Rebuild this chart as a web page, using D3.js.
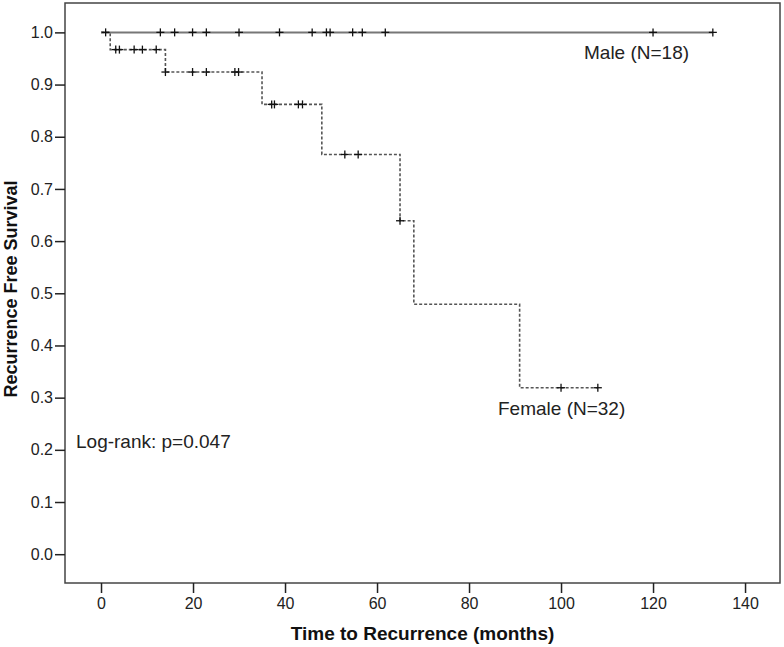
<!DOCTYPE html>
<html>
<head>
<meta charset="utf-8">
<script src="https://cdn.jsdelivr.net/npm/d3@7"></script>
<style>
  html, body { margin: 0; padding: 0; background: #fff; }
  svg { display: block; font-family: "Liberation Sans", Arial, sans-serif; }
</style>
</head>
<body>
<svg id="chart" width="784" height="647"></svg>
<script>
// ---- data ----
const xTicks = [0, 20, 40, 60, 80, 100, 120, 140];
const yTicks = [0.0, 0.1, 0.2, 0.3, 0.4, 0.5, 0.6, 0.7, 0.8, 0.9, 1.0];

const maleStepTimes = [0, 133];
const maleStepSurv  = [1.0, 1.0];
const maleCensorTimes = [1, 12.9, 16, 19.9, 22.9, 30, 38.8, 45.9, 49, 49.8, 54.7, 56.8, 61.8, 120, 133];

const femaleStepTimes = [0, 2, 14, 35, 48, 65, 68, 91, 108];
const femaleStepSurv  = [1.0, 0.967, 0.924, 0.862, 0.766, 0.639, 0.479, 0.319, 0.319];
const femaleCensorTimes = [3.2, 4.0, 7.2, 9.0, 12.0, 14.0, 19.9, 22.9, 29.1, 29.9, 37.1, 37.7, 42.9, 43.8, 53.0, 55.9, 65.0, 100, 108];

const labels = { male: "Male (N=18)", female: "Female (N=32)", logrank: "Log-rank: p=0.047" };

// ---- layout ----
const svg = d3.select("#chart");
const frame = { left: 65, right: 780, top: 3, bottom: 583 };

const x = d3.scaleLinear().domain([-7.83, 147.6]).range([frame.left, frame.right]);
const y = d3.scaleLinear().domain([-0.0552, 1.0563]).range([frame.bottom, frame.top]);

// frame
svg.append("rect")
  .attr("x", frame.left).attr("y", frame.top)
  .attr("width", frame.right - frame.left).attr("height", frame.bottom - frame.top)
  .attr("fill", "none").attr("stroke", "#444").attr("stroke-width", 1.5);

// axes
const xAxis = svg.append("g")
  .attr("transform", `translate(0,${frame.bottom})`)
  .call(d3.axisBottom(x).tickValues(xTicks).tickSize(10).tickPadding(5).tickFormat(d3.format("d")));
const yAxis = svg.append("g")
  .attr("transform", `translate(${frame.left},0)`)
  .call(d3.axisLeft(y).tickValues(yTicks).tickSize(10).tickPadding(2).tickFormat(d3.format(".1f")));
[xAxis, yAxis].forEach(g => {
  g.select(".domain").remove();
  g.selectAll(".tick line").attr("stroke", "#222").attr("stroke-width", 1.5);
  g.selectAll(".tick text").attr("fill", "#222").style("font-size", "16px")
    .style("font-family", "'Liberation Sans', Arial, sans-serif");
});

// survival step lines
function stepData(times, surv) { return times.map((t, i) => ({ t, s: surv[i] })); }
function survAt(times, surv, t) {
  let s = surv[0];
  for (let i = 0; i < times.length; i++) if (times[i] <= t) s = surv[i];
  return s;
}
const line = d3.line().x(d => x(d.t)).y(d => y(d.s)).curve(d3.curveStepAfter);

svg.append("path")
  .datum(stepData(femaleStepTimes, femaleStepSurv))
  .attr("d", line).attr("fill", "none")
  .attr("stroke", "#555").attr("stroke-width", 1.6).attr("stroke-dasharray", "3,2");

svg.append("path")
  .datum(stepData(maleStepTimes, maleStepSurv))
  .attr("d", line).attr("fill", "none")
  .attr("stroke", "#777").attr("stroke-width", 2);

// censor marks
function drawCensors(times, stepT, stepS) {
  const g = svg.append("g").attr("stroke", "#111").attr("stroke-width", 1.3);
  times.forEach(t => {
    const cx = x(t), cy = y(survAt(stepT, stepS, t));
    g.append("line").attr("x1", cx - 4).attr("x2", cx + 4).attr("y1", cy).attr("y2", cy);
    g.append("line").attr("x1", cx).attr("x2", cx).attr("y1", cy - 4).attr("y2", cy + 4);
  });
}
drawCensors(femaleCensorTimes, femaleStepTimes, femaleStepSurv);
drawCensors(maleCensorTimes, maleStepTimes, maleStepSurv);

// annotations
const ann = svg.append("g").attr("fill", "#222").style("font-size", "19px");
ann.append("text").attr("x", 584).attr("y", 59).text(labels.male);
ann.append("text").attr("x", 498).attr("y", 415).text(labels.female);
ann.append("text").attr("x", 76).attr("y", 448).text(labels.logrank);

// axis titles
svg.append("text")
  .attr("x", (frame.left + frame.right) / 2).attr("y", 640)
  .attr("text-anchor", "middle").style("font-size", "19px").style("font-weight", "bold")
  .attr("fill", "#111").text("Time to Recurrence (months)");
svg.append("text")
  .attr("transform", "translate(17,289) rotate(-90)")
  .attr("text-anchor", "middle").style("font-size", "18px").style("font-weight", "bold")
  .attr("fill", "#111").text("Recurrence Free Survival");
</script>
</body>
</html>
